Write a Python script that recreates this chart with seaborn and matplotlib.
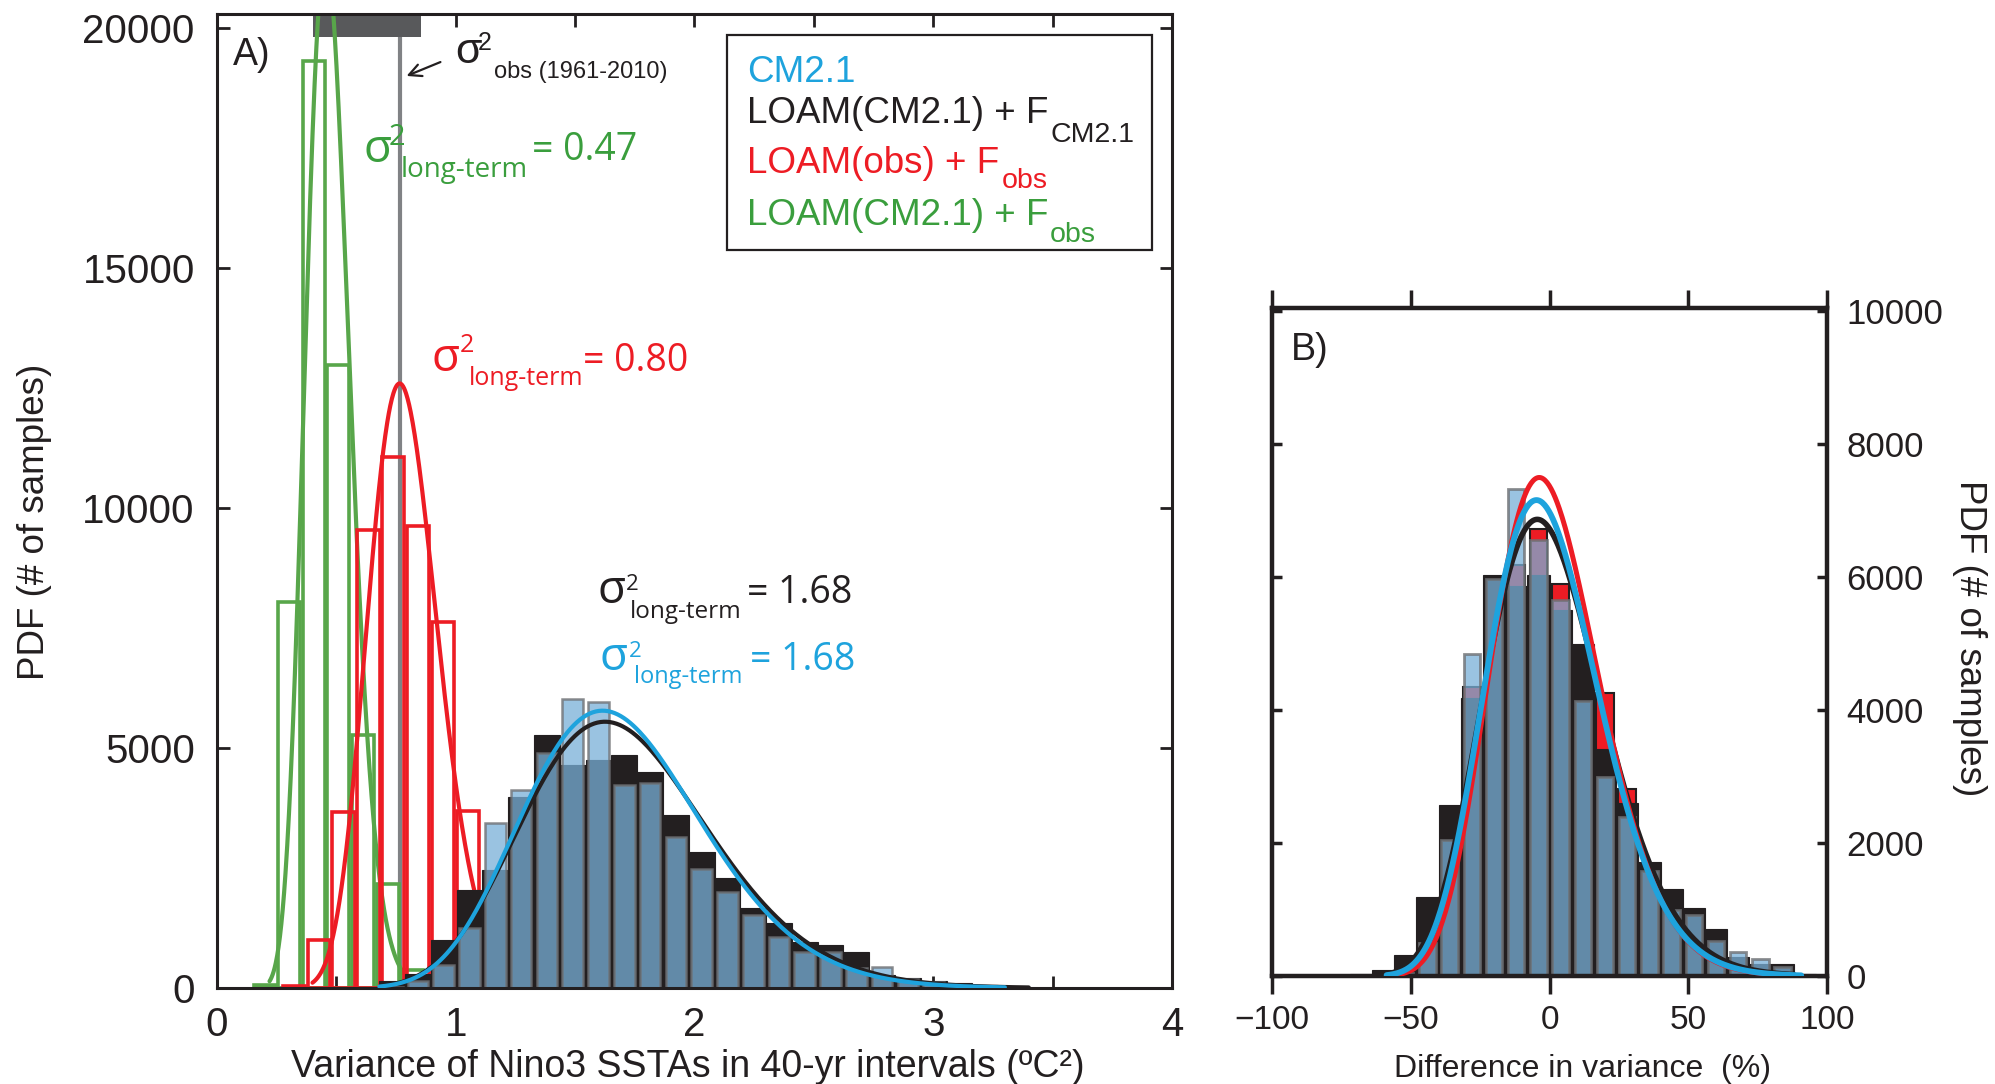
import numpy as np
import matplotlib
matplotlib.use("Agg")
import matplotlib.pyplot as plt
from matplotlib.patches import Rectangle
import seaborn as sns

W, H = 1995, 1084

# colours
BLUE = "#1EA3DD"
BLUE_BAR = "#78AFD7"
BLACK = "#231F20"
RED = "#ED1C24"
GREEN = "#3A9E3D"
GREEN_BAR = "#58A64A"
GRAY = "#808285"
EDGE_GRAY = (0.43, 0.44, 0.45, 0.8)

# ---------------- panel A: variance of Nino3 SSTAs (40-yr windows) ----------------
# CM2.1 and LOAM(CM2.1)+F_CM2.1 share the same bins
a_bin_start, a_bin_width = 0.68, 0.108
cm21_a = [30, 150, 480, 1250, 3430, 4125, 4890, 6030, 5960, 4230, 4280, 3150, 2490,
          2010, 1520, 1070, 760, 760, 410, 440, 180, 120, 70, 40, 10]
loam_cm21_a = [150, 300, 1000, 2040, 2460, 3980, 5270, 4650, 4750, 4850, 4500, 3600,
               2840, 2285, 1660, 1350, 965, 900, 760, 270, 200, 150, 100, 60, 30]

# LOAM(obs)+F_obs
red_bin_start, red_bin_width = 0.27, 0.104
loam_obs_a = [40, 1000, 3660, 9545, 11060, 9630, 7620, 3680, 800]

# LOAM(CM2.1)+F_obs
green_bin_start, green_bin_width = 0.148, 0.103
loam_cm21_fobs_a = [60, 8035, 19320, 12985, 5270, 2170, 375]

# fitted pdf curves: mode, scale, shape-1, peak height, x range
green_fit = [0.455, 0.019, 23.95, 21500]
green_range = [0.22, 0.80]
red_fit = [0.765, 0.0277, 27.6, 12600]
red_range = [0.40, 1.25]
black_fit_a = [1.625, 0.0934, 17.4, 5550]
black_range_a = [0.72, 3.40]
blue_fit_a = [1.615, 0.088, 18.35, 5780]
blue_range_a = [0.68, 3.30]

obs_var = 0.765          # sigma^2 obs (1961-2010)
obs_range = [0.40, 0.855]

# ---------------- panel B: difference in variance (%) ----------------
b_bin_start, b_bin_width, b_nbins = -72, 8, 21
loam_cm21_b = [25, 90, 316, 1195, 2580, 4180, 6026, 5870, 6030, 5500, 5000, 3420,
               2605, 1710, 1316, 1026, 710, 290, 184, 184, 37]
loam_obs_b = [0, 0, 40, 400, 1900, 4350, 5900, 6184, 6720, 5894, 4500, 4263, 2816,
              1500, 900, 700, 450, 250, 120, 50, 0]
cm21_b = [0, 0, 50, 500, 2050, 4840, 5973, 7320, 6557, 5658, 4131, 3000, 2395,
          1580, 1000, 920, 526, 368, 263, 130, 0]

black_fit_b = [-4.4, 4.9, 19, 6870]
black_range_b = [-58, 88]
red_fit_b = [-3.7, 4.5, 19, 7500]
red_range_b = [-56.7, 88]
blue_fit_b = [-4.7, 4.66, 19, 7160]
blue_range_b = [-58.7, 90.7]


def edges(start, width, n):
    return [float(v) for v in start + width * np.arange(n + 1)]


def mids(e):
    e = np.asarray(e)
    return list((e[:-1] + e[1:]) / 2)


def hist(ax, start, width, counts, **kw):
    e = edges(start, width, len(counts))
    sns.histplot(x=mids(e), weights=list(counts), bins=e, ax=ax, **kw)


def fit_curve(rng, fit):
    # gamma shaped pdf scaled to its peak
    mode, theta, km1, peak = fit
    x = np.linspace(rng[0], rng[1], 400)
    u = np.clip((x - mode) / theta + km1, 1e-9, None)
    return x, peak * np.exp(km1 * np.log(u / km1) - (u - km1))


sns.set_style("ticks")
ARIAL = ["Liberation Sans", "DejaVu Sans"]
SIG = ["Open Sans", "DejaVu Sans"]
plt.rcParams["font.family"] = ARIAL

fig = plt.figure(figsize=(W / 100, H / 100), dpi=100)
ax1 = fig.add_axes([217 / W, 1 - 988 / H, 955 / W, 974 / H])
ax2 = fig.add_axes([1272 / W, 1 - 976 / H, 555 / W, 668 / H])

# ---- panel A ----
ax1.axvline(obs_var, color=GRAY, lw=3, zorder=0.5)
ax1.axvspan(obs_range[0], obs_range[1], ymin=0.976, ymax=1, color="#58595B", lw=0, zorder=1.5)

hist(ax1, green_bin_start, green_bin_width, loam_cm21_fobs_a, fill=False, shrink=0.9,
     color=GREEN_BAR, linewidth=2.6, zorder=1.0)
x, y = fit_curve(green_range, green_fit)
sns.lineplot(x=x, y=y, color=GREEN_BAR, lw=3, ax=ax1, zorder=1.6)
hist(ax1, red_bin_start, red_bin_width, loam_obs_a, fill=False, shrink=0.9,
     color=RED, linewidth=2.6, zorder=1.7)
x, y = fit_curve(red_range, red_fit)
sns.lineplot(x=x, y=y, color=RED, lw=3, ax=ax1, zorder=1.8)
hist(ax1, a_bin_start, a_bin_width, loam_cm21_a, color=BLACK, alpha=1,
     edgecolor=BLACK, linewidth=0.8, zorder=1.9)
hist(ax1, a_bin_start, a_bin_width, cm21_a, color=BLUE_BAR, alpha=0.75,
     edgecolor=EDGE_GRAY, linewidth=1.8, shrink=0.8, zorder=2.0)
for rng, fit, col in [(black_range_a, black_fit_a, BLACK), (blue_range_a, blue_fit_a, BLUE)]:
    x, y = fit_curve(rng, fit)
    sns.lineplot(x=x, y=y, color=col, lw=3, ax=ax1, zorder=3)

ax1.set_xlim(0, 4)
ax1.set_ylim(0, 20300)
ax1.set_xticks([0, 1, 2, 3, 4])
ax1.set_xticks([0.5, 1.5, 2.5, 3.5], minor=True)
ax1.set_yticks([0, 5000, 10000, 15000, 20000])
ax1.tick_params(which="both", direction="in", top=True, right=True, length=9, width=2,
                labelsize=29, pad=16, labelcolor=BLACK, color=BLACK)
ax1.tick_params(axis="x", pad=13)
ax1.set_xlabel("")
ax1.set_ylabel("")
for s in ax1.spines.values():
    s.set_linewidth(2.2)
    s.set_color(BLACK)

# ---- panel B ----
hist(ax2, b_bin_start, b_bin_width, loam_obs_b, color=RED, alpha=1,
     edgecolor=BLACK, linewidth=1.5, shrink=0.8, zorder=1.0)
hist(ax2, b_bin_start, b_bin_width, loam_cm21_b, color=BLACK, alpha=1,
     edgecolor=BLACK, linewidth=0.8, zorder=1.1)
hist(ax2, b_bin_start, b_bin_width, cm21_b, color=BLUE_BAR, alpha=0.75,
     edgecolor=EDGE_GRAY, linewidth=2.0, shrink=0.74, zorder=1.2)

for rng, fit, col, lw in [(black_range_b, black_fit_b, BLACK, 4), (red_range_b, red_fit_b, RED, 3.6),
                          (blue_range_b, blue_fit_b, BLUE, 4.2)]:
    x, y = fit_curve(rng, fit)
    sns.lineplot(x=x, y=y, color=col, lw=lw, ax=ax2, zorder=3)

ax2.set_xlim(-100, 100)
ax2.set_ylim(0, 10050)
ax2.set_xticks([-100, -50, 0, 50, 100])
ax2.set_yticks([0, 2000, 4000, 6000, 8000, 10000])
ax2.tick_params(axis="x", direction="out", top=True, bottom=True, length=13, width=2.5,
                labelsize=24, pad=8, labelcolor=BLACK, color=BLACK)
ax2.tick_params(axis="y", direction="in", left=True, right=True, labelleft=False,
                labelright=True, length=7, width=2.5, labelsize=25, pad=14,
                labelcolor=BLACK, color=BLACK)
ax2.set_xlabel("")
ax2.set_ylabel("")
for s in ax2.spines.values():
    s.set_linewidth(3.2)
    s.set_color(BLACK)


# ---- text, placed in figure pixels (baseline-left) ----
def ftext(x, y, s, size, color=BLACK, family=ARIAL, **kw):
    kw.setdefault("ha", "left")
    kw.setdefault("va", "baseline")
    return fig.text(x / W, 1 - y / H, s, fontsize=size, color=color, family=family, **kw)


ftext(233, 65, "A)", 27)
ftext(1291, 360, "B)", 27)

ftext(455, 63, "σ", 31)
ftext(478, 50, "2", 18)
ftext(494, 78, "obs (1961-2010)", 17)
ax1.annotate("", xy=(404, H - 77), xycoords="figure pixels", xytext=(443, H - 61),
             textcoords="figure pixels",
             arrowprops=dict(arrowstyle="->", lw=1.6, color=BLACK, mutation_scale=22))

# sigma^2 long-term labels: (sigma, sup, sub, value) positions and sizes
for col, pos, sizes, val in [
    (GREEN, [(363, 162), (389, 145), (401, 177), (532, 160)], (33, 21, 20, 27), "= 0.47"),
    (RED, [(431, 371), (460, 352), (469, 385), (583, 371)], (33, 18, 18, 27), "= 0.80"),
    (BLACK, [(597, 603), (626, 590), (630, 618), (747, 603)], (33, 16, 17.5, 27), "= 1.68"),
    (BLUE, [(600, 670), (629, 657), (634, 683), (750, 670)], (33, 16, 17, 27), "= 1.68"),
]:
    for (px, py), sz, s in zip(pos, sizes, ["σ", "2", "long-term", val]):
        ftext(px, py, s, sz, col, SIG)

# legend box
fig.add_artist(Rectangle((727 / W, 1 - 250 / H), 425 / W, 215 / H, transform=fig.transFigure,
                         facecolor="white", edgecolor=BLACK, lw=1.6, zorder=4))
for y, main, sub, suby, subx, col in [
    (82, "CM2.1", "", 0, 0, BLUE),
    (123, "LOAM(CM2.1) + F", "CM2.1", 142, 1050, BLACK),
    (173, "LOAM(obs) + F", "obs", 188, 1002, RED),
    (225, "LOAM(CM2.1) + F", "obs", 242, 1050, GREEN),
]:
    ftext(747, y, main, 26.5, col, zorder=5)
    if sub:
        ftext(subx, suby, sub, 20.5, col, zorder=5)

# axis labels
ftext(35, 522, "PDF (# of samples)", 26.5, rotation=90, ha="center", va="center")
ftext(688, 1077, "Variance of Nino3 SSTAs in 40-yr intervals (ºC²)", 27, ha="center")
ftext(1583, 1077, "Difference in variance  (%)", 23, ha="center")
ftext(1970, 638, "PDF (# of samples)", 26.5, rotation=-90, ha="center", va="center")

fig.savefig("out.png", dpi=100)
